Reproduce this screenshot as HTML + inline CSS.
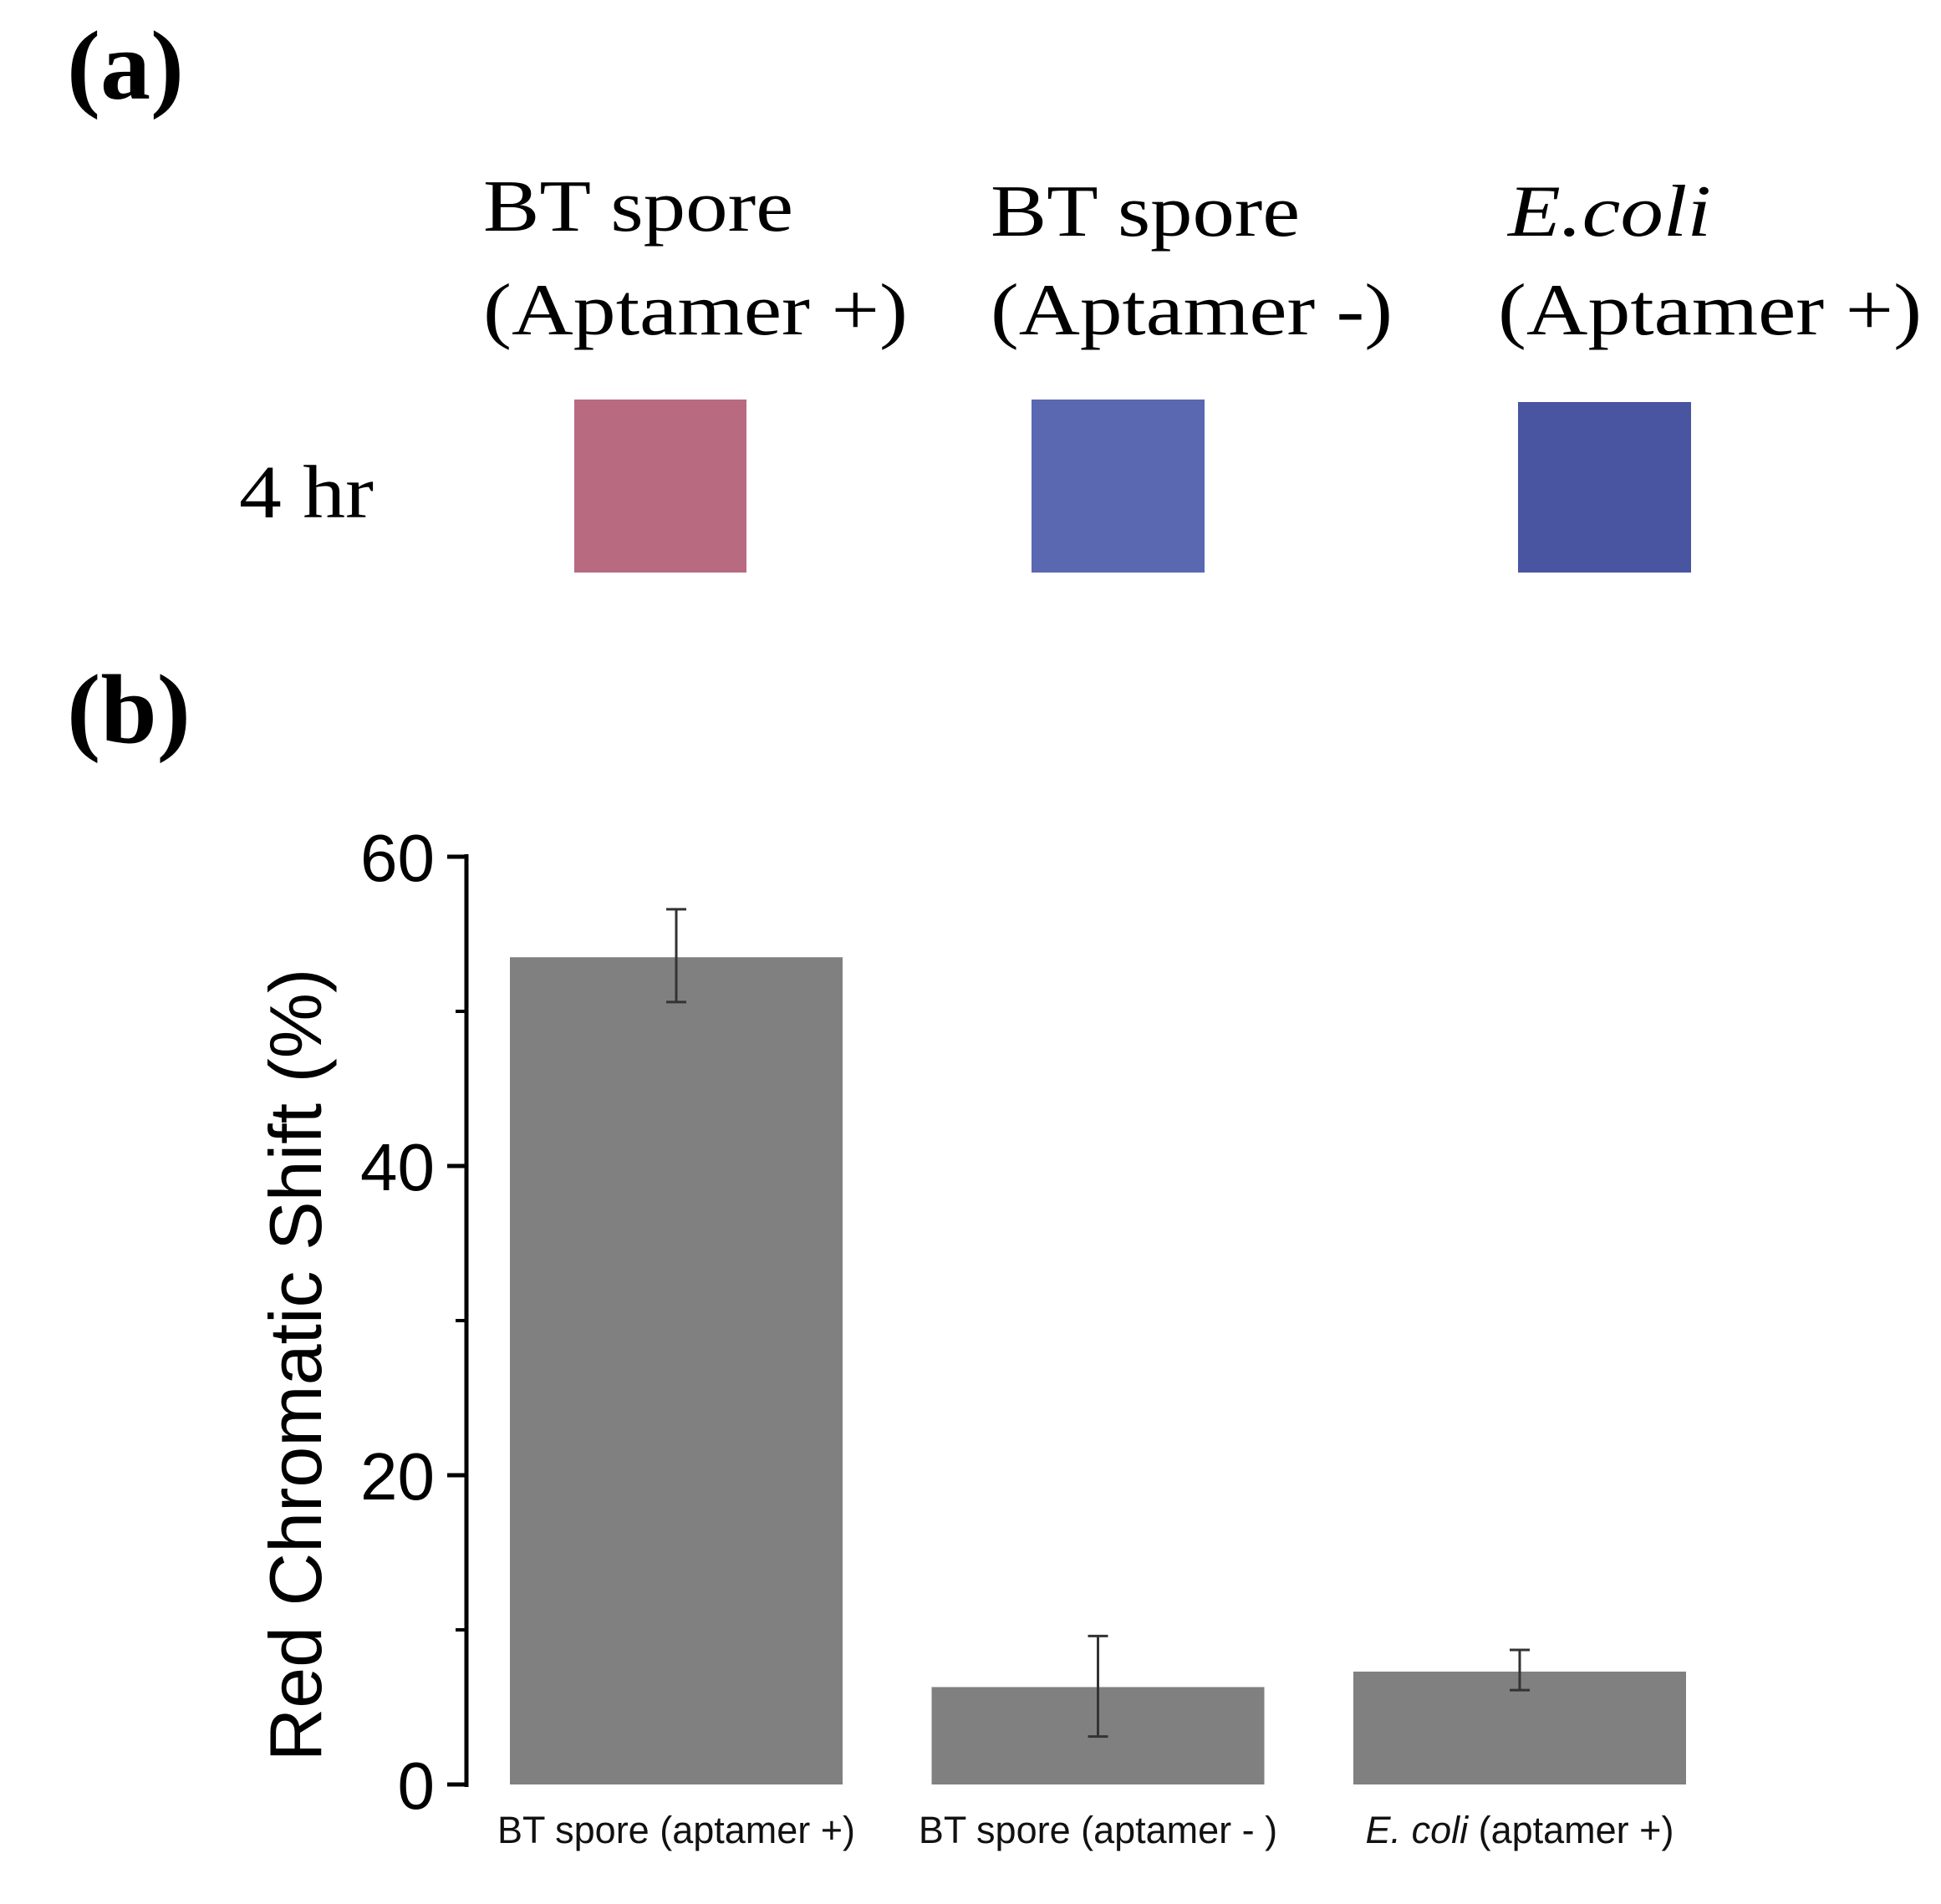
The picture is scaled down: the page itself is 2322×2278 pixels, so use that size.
<!DOCTYPE html>
<html><head><meta charset="utf-8"><style>
html,body{margin:0;padding:0;background:#fff;}
svg{display:block;}
.serif{font-family:"Liberation Serif",serif;}
.sans{font-family:"Liberation Sans",sans-serif;}
</style></head><body>
<svg width="2322" height="2278" viewBox="0 0 2322 2278">
<g>
<text class="serif" x="80" y="118" font-size="118" font-weight="bold" textLength="140" lengthAdjust="spacingAndGlyphs">(a)</text>
<text class="serif" x="578" y="276" font-size="88" textLength="371" lengthAdjust="spacingAndGlyphs">BT spore</text>
<text class="serif" x="578" y="400" font-size="88" textLength="508" lengthAdjust="spacingAndGlyphs">(Aptamer +)</text>
<text class="serif" x="1185" y="282" font-size="88" textLength="370" lengthAdjust="spacingAndGlyphs">BT spore</text>
<text class="serif" x="1185" y="400" font-size="88" textLength="481" lengthAdjust="spacingAndGlyphs">(Aptamer -)</text>
<text class="serif" x="1804" y="282" font-size="88" font-style="italic" textLength="243" lengthAdjust="spacingAndGlyphs">E.coli</text>
<text class="serif" x="1792" y="400" font-size="88" textLength="507" lengthAdjust="spacingAndGlyphs">(Aptamer +)</text>
<text class="serif" x="286" y="619" font-size="90" textLength="161" lengthAdjust="spacingAndGlyphs">4 hr</text>
<rect x="687" y="478" width="206" height="207" fill="#b86a81"/>
<rect x="1234" y="478" width="207" height="207" fill="#5a68b2"/>
<rect x="1816" y="481" width="207" height="204" fill="#4a55a2"/>
</g>
<text class="serif" x="80" y="888" font-size="118" font-weight="bold" textLength="148" lengthAdjust="spacingAndGlyphs">(b)</text>
<g id="chart"></g>
</svg>
<script>
const categories = ["BT spore (aptamer +)", "BT spore (aptamer - )", "E. coli (aptamer +)"];
const values = [53.5, 6.3, 7.3];
const errUp = [3.1, 3.3, 1.4];
const errDown = [2.9, 3.2, 1.2];
const yTicks = [0, 20, 40, 60];
const yMinor = [10, 30, 50];

const NS = "http://www.w3.org/2000/svg";
const g = document.getElementById('chart');
const axX = 558, y0 = 2135, y60 = 1025;
function yS(v){ return y0 - (v/60)*(y0-y60); }
const barLeft = [610, 1114, 1619], barW = 398;
function xS(i){ return barLeft[0] + i*(barLeft[2]-barLeft[0])/2; }
function mk(tag, attrs){ const e=document.createElementNS(NS,tag); for(const k in attrs) e.setAttribute(k,attrs[k]); g.appendChild(e); return e; }

categories.forEach((c,i)=>{
  const x = xS(i), v = values[i];
  const b = mk('rect',{x:x,y:yS(v),width:barW,height:y0-yS(v),fill:'#808080'});
  
  
  const cx = x + barW/2;
  const e = mk('path',{d:`M${cx},${yS(v+errUp[i])}V${yS(v-errDown[i])}M${cx-12},${yS(v+errUp[i])}h24M${cx-12},${yS(v-errDown[i])}h24`,stroke:'#333',"stroke-width":3,fill:'none'});
  
  
  const t = mk('text',{x:cx,y:2205,"text-anchor":'middle',"font-size":45,class:'sans',fill:'#111'});
  
  
  if(c.startsWith('E. coli')){
    const s = document.createElementNS(NS,'tspan'); s.setAttribute('font-style','italic'); s.textContent='E. coli'; t.appendChild(s);
    t.appendChild(document.createTextNode(c.slice(7)));
  } else t.textContent = c;
});
const ax = mk('line',{x1:axX,y1:y60-3,x2:axX,y2:y0+3,stroke:'#000',"stroke-width":5});


yTicks.forEach(v=>{
  const l = mk('line',{x1:535,y1:yS(v),x2:axX,y2:yS(v),stroke:'#000',"stroke-width":5});
  
  
  const t = mk('text',{x:520,y:yS(v)+29,"text-anchor":'end',"font-size":80,class:'sans'});
  
  
  t.textContent = v;
});
yMinor.forEach(v=>{
  const l = mk('line',{x1:545,y1:yS(v),x2:axX,y2:yS(v),stroke:'#000',"stroke-width":4});
  
  
});
const yt = mk('text',{x:0,y:0,"text-anchor":'middle',"font-size":88,class:'sans',transform:'translate(384,1633) rotate(-90)'});


yt.textContent = 'Red Chromatic Shift (%)';
</script>
</body></html>
